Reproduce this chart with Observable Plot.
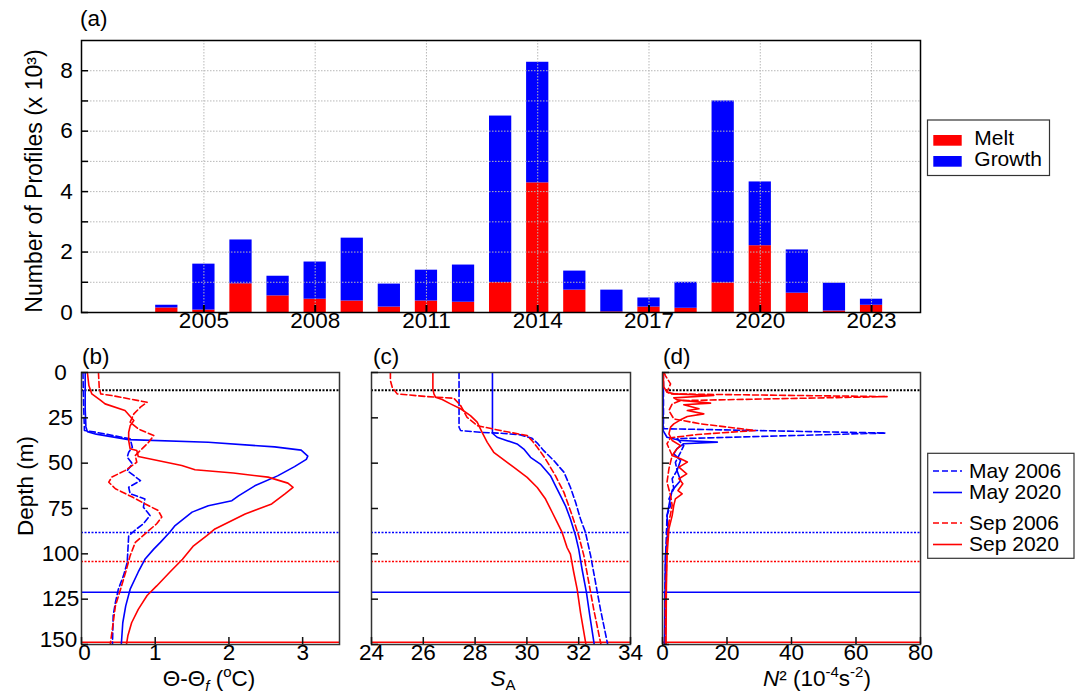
<!DOCTYPE html>
<html>
<head>
<meta charset="utf-8">
<script src="https://cdn.jsdelivr.net/npm/d3@7"></script>
<script src="https://cdn.jsdelivr.net/npm/@observablehq/plot@0.6"></script>
<style>
  html, body { margin: 0; padding: 0; background: #fff; }
  #root { position: relative; width: 1083px; height: 694px; overflow: hidden; background: #fff; }
  #root > div.panel { position: absolute; }
</style>
</head>
<body>
<div id="root"></div>
<script>
// ---------------- DATA ----------------
// Panel (a): number of profiles (x 10^3) per year
const years = [2004,2005,2006,2007,2008,2009,2010,2011,2012,2013,2014,2015,2016,2017,2018,2019,2020,2021,2022,2023];
const meltCounts   = [0.15,0.08,0.95,0.55,0.44,0.38,0.18,0.38,0.34,0.99,4.29,0.74,0.02,0.18,0.14,0.98,2.21,0.64,0.05,0.24];
const growthCounts = [0.09,1.52,1.45,0.65,1.23,2.08,0.76,1.02,1.23,5.51,3.99,0.63,0.72,0.30,0.86,6.02,2.11,1.43,0.92,0.20];
const yearTicks  = [2005,2008,2011,2014,2017,2020,2023];
const countTicks = [0,2,4,6,8];
const countMinorTicks = [0,1,2,3,4,5,6,7,8];
const barTypes = ["Melt","Growth"];

// Profiles: [depth (m), value]
const seriesNames = ["May 2006","May 2020","Sep 2006","Sep 2020"];
const depthTicks = [0,25,50,75,100,125,150];

// (b) Θ-Θf (°C)
const thetaMay2006 = [[0,0.02],[20,0.03],[32,0.04],[32.9,0.19],[36.6,0.66],[41.2,0.69],[44,0.64],[46.7,0.62],[50.4,0.69],[54.1,0.62],[59.6,0.8],[63.3,0.64],[66.9,0.66],[69.7,0.86],[74.3,0.84],[78.9,0.93],[83.4,0.84],[86.2,0.75],[90,0.64],[97.4,0.63],[104.8,0.62],[112,0.57],[119.5,0.5],[126.8,0.46],[134,0.43],[150,0.42]];
const thetaMay2020 = [[0,0.05],[20,0.05],[30,0.06],[32.6,0.08],[34,0.2],[37,0.64],[38.5,1.72],[41,2.62],[42.8,2.98],[46.1,3.07],[47.9,3.05],[51.9,2.89],[57,2.66],[62.5,2.35],[68,2.13],[70.7,2.04],[73.5,1.72],[77,1.5],[84.4,1.27],[88,1.2],[93.7,1.07],[97.4,0.98],[103,0.86],[110,0.77],[119.5,0.66],[128.7,0.6],[138,0.56],[150,0.54]];
const thetaSep2006 = [[0,0.23],[8,0.24],[11.8,0.26],[12.7,0.41],[16.4,0.89],[19.1,0.8],[22.8,0.71],[27.4,0.66],[31.1,0.77],[34.8,0.98],[38.5,0.91],[42.1,0.82],[45.8,0.73],[49.5,0.75],[54.1,0.59],[57.7,0.41],[60.5,0.37],[64.1,0.46],[68.7,0.69],[72.4,0.86],[76.1,1.04],[79.7,1.09],[83.4,1.02],[88,0.89],[93.7,0.73],[101,0.66],[110,0.6],[119.5,0.53],[128.7,0.46],[138,0.43],[150,0.39]];
const thetaSep2020 = [[0,0.08],[7.2,0.1],[11.8,0.14],[15.4,0.26],[17.3,0.32],[21,0.59],[26.5,0.71],[29.4,0.66],[33,0.64],[37.5,0.64],[42.1,0.66],[43,0.75],[46.3,0.77],[51.3,1.36],[53.6,1.54],[55.4,2.06],[57.7,2.53],[61,2.8],[63.3,2.87],[66.9,2.76],[72.5,2.58],[78,2.22],[86.3,1.81],[90,1.7],[95.6,1.52],[103,1.37],[110,1.2],[117.7,1.02],[123,0.89],[130.6,0.77],[138,0.68],[145,0.63],[150,0.61]];
const thetaTicks = [0,1,2,3];

// (c) S_A
const salMay2006 = [[0,27.38],[30.2,27.38],[32,27.44],[33,28.21],[33.5,28.98],[34.4,29.75],[36.3,30.2],[38.9,30.4],[43.1,30.65],[48.6,31.04],[55,31.43],[63.3,31.68],[71.6,31.88],[80.8,32.07],[88.1,32.26],[101,32.46],[115.8,32.65],[130.6,32.84],[150,33.12]];
const salMay2020 = [[0,28.67],[33.5,28.67],[35.7,28.85],[37.6,29.24],[39.4,29.62],[42.2,29.88],[46.8,30.14],[50.5,30.52],[56.9,30.91],[62.4,31.1],[68,31.3],[73.5,31.49],[80.8,31.68],[90,31.88],[97.4,32.0],[108.5,32.13],[121.4,32.3],[134.2,32.43],[150,32.6]];
const salSep2006 = [[0,24.73],[4.4,24.73],[8.1,24.8],[11.8,24.99],[13.3,26.15],[14.2,27.18],[18.2,27.44],[24.7,27.69],[29.3,28.08],[32,28.98],[34.8,30.01],[37.6,30.2],[41.2,30.4],[47.7,30.72],[56.9,31.1],[66.1,31.43],[79,31.75],[90,32.0],[101,32.2],[115.8,32.39],[130.6,32.58],[150,32.86]];
const salSep2020 = [[0,26.37],[9,26.37],[11.8,26.41],[13.6,26.47],[14.9,26.73],[17.3,27.05],[20,27.44],[23.8,27.82],[27.4,28.08],[33,28.27],[38.5,28.47],[44,28.72],[46.8,28.98],[52.3,29.5],[57.8,30.01],[63.4,30.4],[69.8,30.72],[77.2,30.98],[82.7,31.17],[88.2,31.36],[96.5,31.55],[100.2,31.68],[110.3,31.81],[119.5,31.94],[132.4,32.07],[150,32.28]];
const salTicks = [24,26,28,30,32,34];

// (d) N² (10^-4 s^-2)
const n2May2006 = [[0,0.3],[30,0.3],[31,0.4],[33.4,69.2],[36.5,4.5],[40.3,6.6],[44,5.6],[49.5,4],[54,4.5],[58.6,3],[64.2,3.5],[69.7,2],[73.3,2.5],[78.9,1.4],[90,1.2],[104.6,0.9],[119.3,0.8],[150,0.7]];
const n2May2020 = [[0,0.2],[32,0.2],[35.7,1.4],[37.5,5.6],[38.4,17],[39.3,6.6],[42,4.5],[44.9,3.5],[48.5,5.6],[54,4.5],[59.6,5.6],[65,3],[68.8,2.5],[73.3,2],[78.9,1.4],[86.2,1.7],[101,0.9],[119.3,0.8],[150,0.6]];
const n2Sep2006 = [[0,0.5],[1.7,0.9],[6.3,2.5],[10.8,1.4],[11.8,2.5],[13.3,69.7],[15.5,5.6],[17.3,3],[21,2],[25.6,3.5],[28.3,11.8],[32,28.8],[34.2,10.8],[36,2.5],[39.3,1.4],[45.8,3],[53,2],[60.5,1.4],[67.8,2.5],[73.3,3],[82.5,2],[93.6,1.4],[110,1.2],[128.5,0.9],[150,0.9]];
const n2Sep2020 = [[0,0.2],[8,0.4],[10.8,1.4],[11.8,3.5],[12.7,15.9],[14,3.5],[15.1,4.5],[16.9,14.9],[17.8,6.6],[20,11.3],[21,7.7],[22.8,12.8],[24.3,7.7],[26.1,5.6],[28.3,3.5],[30.1,2.5],[33.8,2],[37.5,3],[40.3,5.6],[42.1,4.5],[45.8,3],[47.6,5.6],[49.4,7.7],[52.2,5.1],[55.9,7.5],[58.6,5.1],[61.4,6.3],[65.1,4.8],[66.9,6.1],[69.7,4],[73.3,3.5],[78.9,3],[86.2,2],[93.6,1.7],[101,1.4],[119.3,1.2],[150,1.1]];
const n2Ticks = [0,20,40,60,80];

// Reference depths (m)
const refKeys   = ["10 m","May 2006","Sep 2006","May 2020","Sep 2020"];
const refDepths = [9.8, 88.2, 104.2, 121.2, 148.7];

// ---------------- STYLE ----------------
const FONT = '"Liberation Sans", Arial, Helvetica, sans-serif';
const FS = 22.5;
const LEG_FS = 21;
const RED = "#ff0000", BLUE = "#0000ff";
const lineStyle = {
  "May 2006": {stroke: BLUE, dash: "6,3"},
  "May 2020": {stroke: BLUE, dash: null},
  "Sep 2006": {stroke: RED, dash: "6,3"},
  "Sep 2020": {stroke: RED, dash: null}
};
const refStyle = {
  "10 m":     {stroke: "#000", dash: "2,1.5", width: 2},
  "May 2006": {stroke: BLUE, dash: "2,1.5", width: 1.5},
  "Sep 2006": {stroke: RED,  dash: "2,1.5", width: 1.5},
  "May 2020": {stroke: BLUE, dash: null, width: 1.5},
  "Sep 2020": {stroke: RED,  dash: null, width: 1.5}
};

const root = document.getElementById("root");
function place(node, left, top) {
  const d = document.createElement("div");
  d.className = "panel";
  d.style.left = left + "px";
  d.style.top = top + "px";
  d.appendChild(node);
  root.appendChild(d);
}

// ---------------- PANEL (a) ----------------
(function () {
  const W = 930, H = 340, ml = 81, mr = 10, mt = 40, mb = 28;
  const fw = W - ml - mr, fh = H - mt - mb;
  const bars = years.flatMap((yr, i) => [
    {year: yr, type: "Melt", y1: 0, y2: meltCounts[i]},
    {year: yr, type: "Growth", y1: meltCounts[i], y2: meltCounts[i] + growthCounts[i]}
  ]);
  const chart = Plot.plot({
    width: W, height: H,
    marginLeft: ml, marginRight: mr, marginTop: mt, marginBottom: mb,
    x: {domain: [2001.7, 2024.32], axis: null},
    y: {domain: [0, 9], axis: null},
    color: {domain: barTypes, range: [RED, BLUE]},
    style: {fontFamily: FONT, fontSize: FS + "px", background: "transparent", overflow: "visible"},
    marks: [
      Plot.rect(bars, {x1: d => d.year - 0.3, x2: d => d.year + 0.3, y1: "y1", y2: "y2", fill: "type"}),
      Plot.ruleY(countMinorTicks.slice(1), {y: d => d, stroke: "#b8b8b8", strokeWidth: 1, strokeDasharray: "1.5,1.5"}),
      Plot.ruleX(yearTicks, {x: d => d, stroke: "#b8b8b8", strokeWidth: 1, strokeDasharray: "1.5,1.5"}),
      Plot.frame({stroke: "#000", strokeWidth: 1.5}),
      Plot.tickY(countMinorTicks, {y: d => d, insetRight: fw - 7, stroke: "#000", strokeWidth: 1.5}),
      Plot.tickX(yearTicks, {x: d => d, insetTop: fh - 7, stroke: "#000", strokeWidth: 2}),
      Plot.text(countTicks, {y: d => d, text: d => String(d), frameAnchor: "left", textAnchor: "middle", dx: -15, fontSize: FS, fill: "#000"}),
      Plot.text(yearTicks, {x: d => d, text: d => String(d), frameAnchor: "bottom", dy: 15, fontSize: FS, fill: "#000"})
    ]
  });
  place(chart, 0, 0);
})();

// ---------------- PANELS (b)(c)(d) ----------------
function depthPanel({left, width, ml, mr, xDomain, xTicks, series, yLabels}) {
  const H = 354, mt = 32, mb = 50;
  const fw = width - ml - mr, fh = H - mt - mb;
  const marks = [];
  refKeys.forEach((k, i) => {
    const s = refStyle[k];
    marks.push(Plot.ruleY([refDepths[i]], {y: d => d, stroke: s.stroke, strokeWidth: s.width, strokeDasharray: s.dash || undefined}));
  });
  seriesNames.forEach(name => {
    const s = lineStyle[name];
    marks.push(Plot.line(series[name], {x: d => d[1], y: d => d[0], stroke: s.stroke, strokeWidth: 1.6,
      strokeDasharray: s.dash || undefined, curve: "linear", clip: true}));
  });
  marks.push(Plot.frame({stroke: "#333", strokeWidth: 1.5}));
  marks.push(Plot.tickY(depthTicks, {y: d => d, insetRight: fw - 7, stroke: "#111", strokeWidth: 1.5}));
  marks.push(Plot.tickX(xTicks, {x: d => d, insetTop: fh - 7, stroke: "#111", strokeWidth: 1.5}));
  const last = depthTicks[depthTicks.length - 1];
  if (yLabels) {
    // the deepest label is nudged up/left, and the first x label right, so the two do not collide in the corner
    marks.push(Plot.text(depthTicks.slice(0, -1), {y: d => d, text: d => String(d), frameAnchor: "left", textAnchor: "middle", dx: -21, fontSize: FS, fill: "#000"}));
    marks.push(Plot.text([last], {y: d => d, text: d => String(d), frameAnchor: "left", textAnchor: "middle", dx: -23, dy: -5, fontSize: FS, fill: "#000"}));
    marks.push(Plot.text(xTicks.slice(0, 1), {x: d => d, text: d => String(d), frameAnchor: "bottom", dx: 3, dy: 15, fontSize: FS, fill: "#000"}));
    marks.push(Plot.text(xTicks.slice(1), {x: d => d, text: d => String(d), frameAnchor: "bottom", dy: 15, fontSize: FS, fill: "#000"}));
  } else {
    marks.push(Plot.text(xTicks, {x: d => d, text: d => String(d), frameAnchor: "bottom", dy: 15, fontSize: FS, fill: "#000"}));
  }
  const chart = Plot.plot({
    width, height: H, marginLeft: ml, marginRight: mr, marginTop: mt, marginBottom: mb,
    x: {domain: xDomain, axis: null},
    y: {domain: [0, 150], reverse: true, axis: null},
    style: {fontFamily: FONT, fontSize: FS + "px", background: "transparent", overflow: "visible"},
    marks
  });
  place(chart, left, 340);
}

depthPanel({left: 0, width: 350, ml: 81, mr: 11, xDomain: [0, 3.5], xTicks: thetaTicks, yLabels: true,
  series: {"May 2006": thetaMay2006, "May 2020": thetaMay2020, "Sep 2006": thetaSep2006, "Sep 2020": thetaSep2020}});
depthPanel({left: 350, width: 290, ml: 21, mr: 10, xDomain: [24, 34], xTicks: salTicks, yLabels: false,
  series: {"May 2006": salMay2006, "May 2020": salMay2020, "Sep 2006": salSep2006, "Sep 2020": salSep2020}});
depthPanel({left: 640, width: 290, ml: 22, mr: 10, xDomain: [0, 80], xTicks: n2Ticks, yLabels: false,
  series: {"May 2006": n2May2006, "May 2020": n2May2020, "Sep 2006": n2Sep2006, "Sep 2020": n2Sep2020}});

// ---------------- OVERLAY: titles, panel labels, legends ----------------
const ov = d3.select("#root").append("svg")
  .attr("width", 1083).attr("height", 694)
  .style("position", "absolute").style("left", "0px").style("top", "0px")
  .style("pointer-events", "none")
  .style("font-family", FONT).style("font-size", FS + "px");

// panel labels
[["(a)", 80, 26], ["(b)", 82, 364], ["(c)", 373, 364], ["(d)", 663, 364]].forEach(([t, x, y]) =>
  ov.append("text").attr("x", x).attr("y", y).text(t));

// y titles
ov.append("text").attr("transform", "translate(42,181) rotate(-90)").attr("text-anchor", "middle")
  .attr("font-size", 23).text("Number of Profiles (x 10³)");
ov.append("text").attr("transform", "translate(33,486) rotate(-90)").attr("text-anchor", "middle")
  .text("Depth (m)");

// x titles
{
  const t = ov.append("text").attr("x", 209).attr("y", 686).attr("text-anchor", "middle");
  t.append("tspan").text("Θ-Θ");
  t.append("tspan").attr("font-style", "italic").attr("font-size", 15).attr("dy", 5).text("f");
  t.append("tspan").attr("dy", -5).text(" (");
  t.append("tspan").attr("font-size", 15).attr("dy", -9).text("o");
  t.append("tspan").attr("dy", 9).text("C)");
}
{
  const t = ov.append("text").attr("x", 503).attr("y", 686).attr("text-anchor", "middle");
  t.append("tspan").attr("font-style", "italic").text("S");
  t.append("tspan").attr("font-size", 15).attr("dy", 4).text("A");
}
{
  const t = ov.append("text").attr("x", 763).attr("y", 686);
  t.append("tspan").attr("font-style", "italic").text("N");
  t.append("tspan").text("² (10");
  t.append("tspan").attr("font-size", 15).attr("dy", -9).text("-4");
  t.append("tspan").attr("dy", 9).text("s");
  t.append("tspan").attr("font-size", 15).attr("dy", -9).text("-2");
  t.append("tspan").attr("dy", 9).text(")");
}

// legend (a)
{
  const g = ov.append("g");
  g.append("rect").attr("x", 927.5).attr("y", 120).attr("width", 122).attr("height", 55.5)
    .attr("fill", "#fff").attr("stroke", "#333").attr("stroke-width", 1.2);
  const colorOf = {"Melt": RED, "Growth": BLUE};
  barTypes.forEach((name, i) => {
    g.append("rect").attr("x", 933.3).attr("y", 135 + i * 21).attr("width", 28.4).attr("height", 10.7).attr("fill", colorOf[name]);
    g.append("text").attr("x", 974.3).attr("y", 145 + i * 21).attr("font-size", LEG_FS).text(name);
  });
}
// legend (d)
{
  const g = ov.append("g");
  g.append("rect").attr("x", 927.7).attr("y", 453.3).attr("width", 146.3).attr("height", 105)
    .attr("fill", "#fff").attr("stroke", "#333").attr("stroke-width", 1.2);
  const rows = [471, 492.5, 523, 544.5];
  seriesNames.forEach((name, i) => {
    const s = lineStyle[name];
    g.append("line").attr("x1", 933).attr("x2", 962).attr("y1", rows[i]).attr("y2", rows[i])
      .attr("stroke", s.stroke).attr("stroke-width", 1.6).attr("stroke-dasharray", s.dash);
    g.append("text").attr("x", 969).attr("y", rows[i] + 6.5).attr("font-size", LEG_FS).text(name);
  });
}
</script>
</body>
</html>
